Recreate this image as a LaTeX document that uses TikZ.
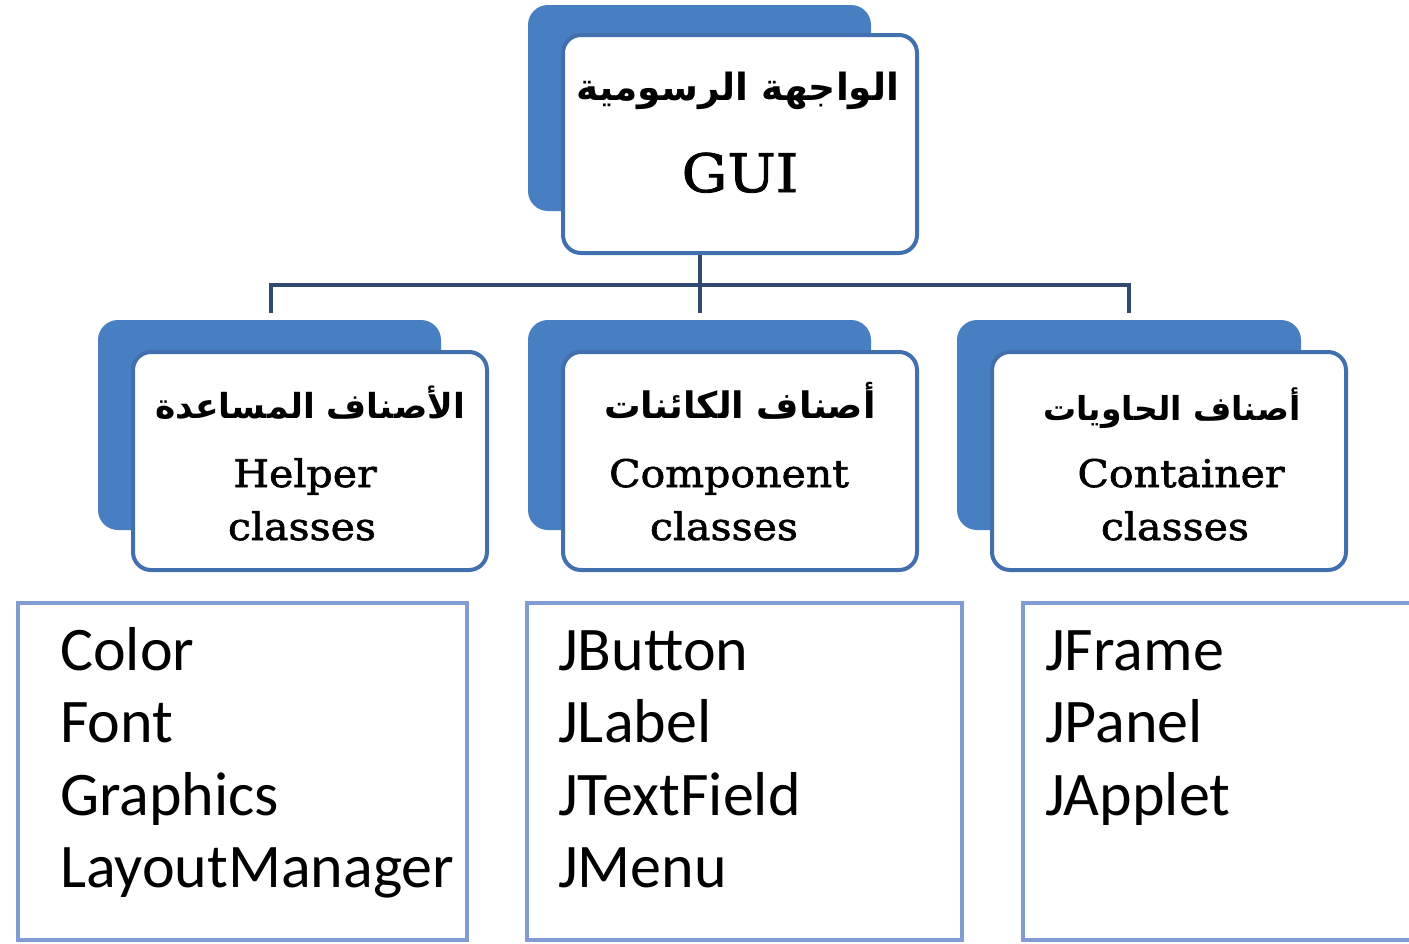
\documentclass[tikz,border=0pt]{standalone}
\usepackage{fontspec}
\setmainfont{DejaVu Serif}
\newfontfamily\serifw[FakeStretch=1.08,FakeBold=1.6]{DejaVu Serif}
\newfontfamily\listfont{Carlito}
\newfontfamily\arabicfont[Script=Arabic]{DejaVu Sans}
\TeXXeTstate=1
\definecolor{backblue}{RGB}{72,126,194}
\definecolor{cardline}{RGB}{66,112,174}
\definecolor{connblue}{RGB}{48,74,112}
\definecolor{listline}{RGB}{128,156,210}
\tikzset{
  back/.style={fill=backblue, rounded corners=20pt},
  card/.style={draw=cardline, line width=4pt, fill=white, rounded corners=18pt, inner sep=0pt},
  conn/.style={draw=connblue, line width=4.5pt, line join=miter},
  listbox/.style={draw=listline, line width=4pt, fill=white},
  ar/.style={font=\arabicfont\bfseries\fontsize{#1}{42}\selectfont, inner sep=0pt, anchor=base},
  ar/.default=36,
  en/.style={font=\serifw\fontsize{38}{44}\selectfont, inner sep=0pt, anchor=base},
  big/.style={font=\serifw\fontsize{53}{60}\selectfont, inner sep=0pt, anchor=base},
  item/.style={font=\listfont\fontsize{62}{72}\selectfont, inner sep=0pt, anchor=base west},
}
\begin{document}
\begin{tikzpicture}[x=1pt,y=-1pt]
\clip (0,0) rectangle (1409,943);
\fill[white] (0,0) rectangle (1409,943);
% back blue boxes
\path[back] (528,5) rectangle (871,211);
\path[back] (98,320) rectangle (441,530);
\path[back] (528,320) rectangle (871,530);
\path[back] (957,320) rectangle (1301,530);
% front cards
\node[card, minimum width=354pt, minimum height=218pt] (gui) at (740,144) {};
\node[card, minimum width=354pt, minimum height=218pt] (helper) at (310,461) {};
\node[card, minimum width=354pt, minimum height=218pt] (comp) at (740,461) {};
\node[card, minimum width=354pt, minimum height=218pt] (cont) at (1169,461) {};
% connectors
\coordinate (j) at (700,285);
\coordinate (jl) at (271,285);
\coordinate (jr) at (1129,285);
\coordinate (dl) at (271,313);
\coordinate (dc) at (700,313);
\coordinate (dr) at (1129,313);
\draw[conn] (dl) -- (jl) -- (jr) -- (dr);
\draw[conn] (gui.south -| j) -- (dc);
% card texts
\node[ar=37.5] (guiar) at (738,100) {\beginR الواجهة الرسومية\endR};
\node[big] (guien) at (740,192) {GUI};
\node[ar=34.5] (helperar) at (310,418) {\beginR الأصناف المساعدة\endR};
\node[en] (helperen) at (305,487) {Helper};
\node[en] (helpercl) at (302,540) {classes};
\node[ar=36.5] (compar) at (740,418) {\beginR أصناف الكائنات\endR};
\node[en] (compen) at (729,487) {Component};
\node[en] (compcl) at (724,540) {classes};
\node[ar=33] (contar) at (1172,420) {\beginR أصناف الحاويات\endR};
\node[en] (conten) at (1181,487) {Container};
\node[en] (contcl) at (1175,540) {classes};
% list boxes
\draw[listbox] (18,603) rectangle (467,940);
\draw[listbox] (527,603) rectangle (962,940);
\draw[listbox] (1023,603) rectangle (1440,940);
\node[item] (l1) at (60,670) {Color};
\node[item] (l2) at (60,742.5) {Font};
\node[item] (l3) at (60,815) {Graphics};
\node[item] (l4) at (60,887.5) {LayoutManager};
\node[item] (m1) at (558,670) {JButton};
\node[item] (m2) at (558,742.5) {JLabel};
\node[item] (m3) at (558,815) {JTextField};
\node[item] (m4) at (558,887.5) {JMenu};
\node[item] (r1) at (1045,670) {JFrame};
\node[item] (r2) at (1045,742.5) {JPanel};
\node[item] (r3) at (1045,815) {JApplet};
\end{tikzpicture}
\end{document}
